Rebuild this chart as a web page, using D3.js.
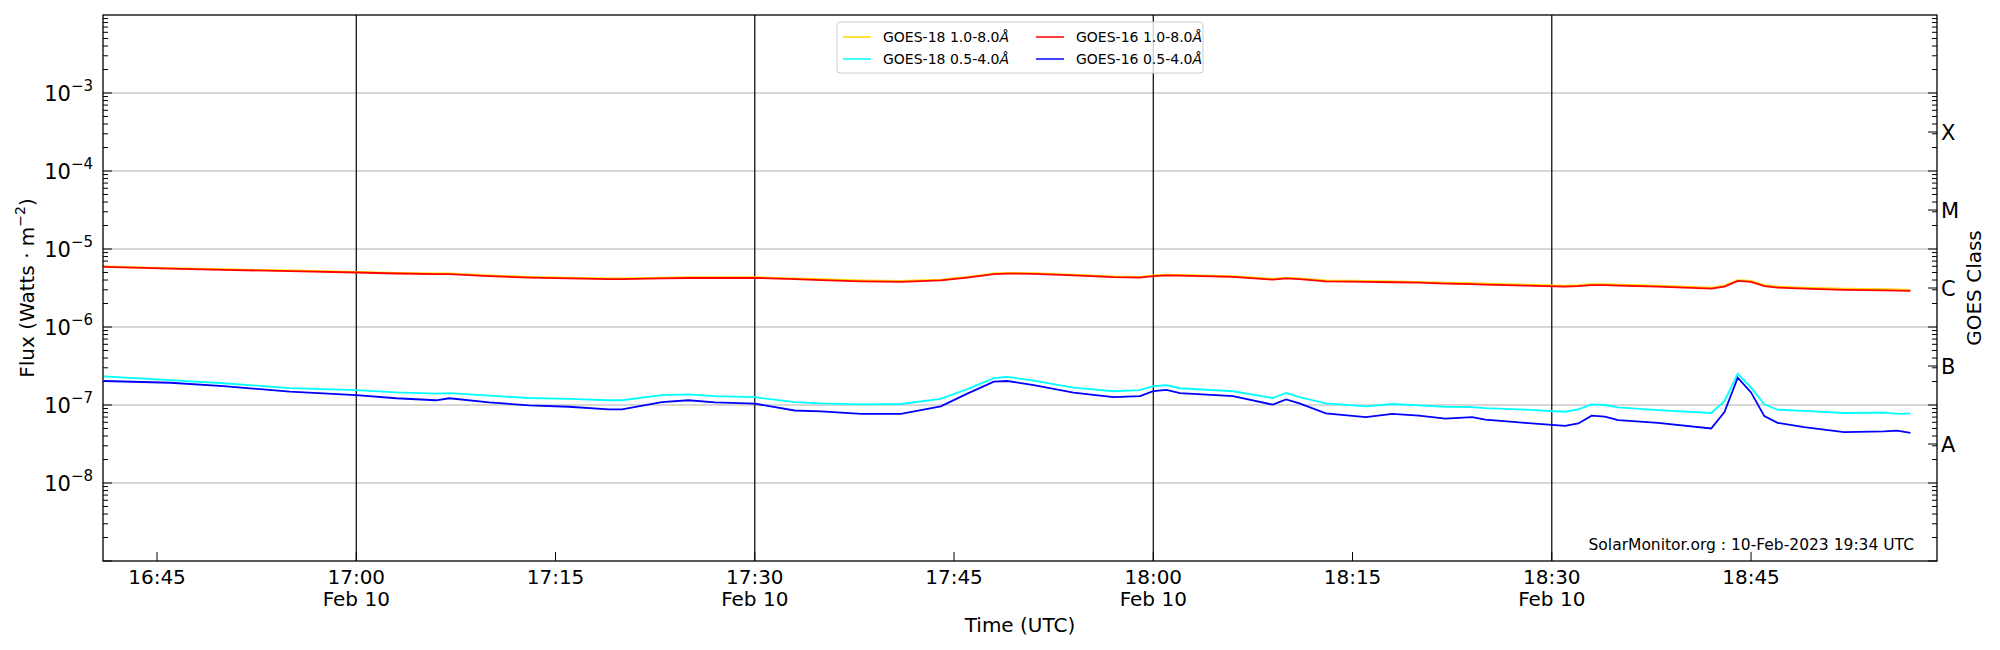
<!DOCTYPE html>
<html><head><meta charset="utf-8">
<script src="https://cdn.jsdelivr.net/npm/d3@7"></script>
<style>body{margin:0;background:#fff}svg{font-family:"DejaVu Sans",sans-serif}</style>
</head><body><svg id="c" width="2000" height="650"></svg>
<script>
const times = ["16:41","16:46","16:50","16:55","17:00","17:03","17:06","17:07","17:10","17:13","17:16","17:19","17:20","17:23","17:25","17:27","17:30","17:33","17:35","17:38","17:41","17:44","17:46","17:48","17:49","17:51","17:54","17:57","17:59","18:00","18:01","18:02","18:06","18:09","18:10","18:11","18:13","18:16","18:18","18:20","18:22","18:24","18:25","18:28","18:31","18:32","18:33","18:34","18:35","18:38","18:42","18:43","18:44","18:45","18:46","18:47","18:49","18:52","18:55","18:56","18:57"];
const g16long = [5.9,5.6,5.4,5.2,5.0,4.85,4.75,4.75,4.5,4.3,4.2,4.1,4.1,4.2,4.25,4.25,4.27,4.1,4.0,3.85,3.8,3.95,4.3,4.75,4.84,4.8,4.6,4.35,4.3,4.5,4.6,4.55,4.4,4.05,4.2,4.1,3.85,3.8,3.75,3.7,3.6,3.55,3.5,3.4,3.3,3.35,3.45,3.45,3.4,3.3,3.1,3.3,3.9,3.8,3.35,3.2,3.1,3.0,2.95,2.93,2.9].map(v=>v*1e-6);
const g18long = [6.0,5.7,5.5,5.3,5.1,4.95,4.85,4.85,4.6,4.4,4.3,4.2,4.2,4.3,4.35,4.35,4.37,4.2,4.1,3.95,3.9,4.05,4.4,4.85,4.94,4.9,4.7,4.45,4.4,4.6,4.7,4.65,4.5,4.15,4.3,4.2,3.95,3.9,3.85,3.8,3.7,3.65,3.6,3.5,3.4,3.45,3.55,3.55,3.5,3.4,3.2,3.4,4.0,3.9,3.45,3.3,3.2,3.1,3.05,3.03,3.0].map(v=>v*1e-6);
const g18short = [2.33,2.08,1.9,1.65,1.55,1.45,1.40,1.42,1.32,1.23,1.2,1.15,1.15,1.34,1.37,1.3,1.26,1.09,1.05,1.02,1.03,1.2,1.6,2.21,2.3,2.05,1.67,1.5,1.55,1.75,1.8,1.64,1.5,1.23,1.43,1.26,1.05,0.96,1.03,0.99,0.95,0.94,0.91,0.87,0.82,0.88,1.02,1.0,0.93,0.86,0.79,1.12,2.52,1.67,1.02,0.87,0.84,0.79,0.8,0.77,0.78].map(v=>v*1e-7);
const g16short = [2.03,1.93,1.75,1.48,1.34,1.22,1.15,1.22,1.08,0.99,0.95,0.88,0.88,1.09,1.15,1.08,1.04,0.85,0.83,0.77,0.77,0.96,1.4,1.99,2.03,1.8,1.44,1.26,1.3,1.51,1.56,1.42,1.3,1.01,1.18,1.05,0.78,0.70,0.77,0.73,0.67,0.70,0.65,0.59,0.54,0.58,0.73,0.71,0.64,0.59,0.50,0.81,2.24,1.45,0.72,0.59,0.52,0.45,0.46,0.47,0.44].map(v=>v*1e-7);
const xTicks = ["16:45","17:00","17:15","17:30","17:45","18:00","18:15","18:30","18:45"];
const classes = ["A","B","C","M","X"];
const classLevels = [1e-8,1e-7,1e-6,1e-5,1e-4];

const svg = d3.select("#c");
const L=103,R=1937,T=15,B=561;
const pt = s => { const [h,m] = s.split(":").map(Number); return new Date(Date.UTC(2023,1,10,h,m)); };
const x = d3.scaleUtc().domain([new Date(Date.UTC(2023,1,10,16,40,56)), new Date(Date.UTC(2023,1,10,18,59,0))]).range([L,R]);
const y = d3.scaleLog().domain([1e-9,1e-2]).range([B,T]);

[1e-8,1e-7,1e-6,1e-5,1e-4,1e-3].forEach(v=>svg.append("line").attr("x1",L).attr("x2",R).attr("y1",y(v)).attr("y2",y(v)).attr("stroke","#b0b0b0").attr("stroke-width",1.2));
["17:00","18:00","17:30","18:30"].forEach(t=>svg.append("line").attr("x1",x(pt(t))).attr("x2",x(pt(t))).attr("y1",T).attr("y2",B).attr("stroke","#000").attr("stroke-width",1.2));

for(let e=-9;e<-2;e++){ for(let k=1;k<10;k++){ const v=k*Math.pow(10,e); const len=k===1?9:5;
  svg.append("line").attr("x1",L).attr("x2",L+len).attr("y1",y(v)).attr("y2",y(v)).attr("stroke","#000");
  svg.append("line").attr("x1",R).attr("x2",R-len).attr("y1",y(v)).attr("y2",y(v)).attr("stroke","#000");
}}
[-8,-7,-6,-5,-4,-3].forEach(e=>{
  const t=svg.append("text").attr("x",L-10).attr("y",y(Math.pow(10,e))+8).attr("text-anchor","end").attr("font-size",21);
  t.append("tspan").text("10");
  t.append("tspan").attr("dy",-10).attr("font-size",15).text("−"+(-e));
});
classes.forEach((c,i)=>{ const v=classLevels[i]*Math.sqrt(10);
  svg.append("line").attr("x1",R).attr("x2",R-9).attr("y1",y(v)).attr("y2",y(v)).attr("stroke","#000");
  svg.append("text").attr("x",R+4).attr("y",y(v)+8).attr("font-size",21).text(c);
});
xTicks.forEach(s=>{ const xx=x(pt(s));
  svg.append("line").attr("x1",xx).attr("x2",xx).attr("y1",B).attr("y2",B-9).attr("stroke","#000");
  svg.append("text").attr("x",xx).attr("y",584).attr("text-anchor","middle").attr("font-size",20).text(s);
  if(s.endsWith(":00")||s.endsWith(":30")) svg.append("text").attr("x",xx).attr("y",606).attr("text-anchor","middle").attr("font-size",20).text("Feb 10");
});

const series=[[g18long,"#ffd700"],[g18short,"#00ffff"],[g16long,"#ff0000"],[g16short,"#0000ff"]];
const line = d3.line().x((d,i)=>x(pt(times[i]))).y(d=>y(d));
series.forEach(([d,c])=>svg.append("path").attr("d",line(d)).attr("fill","none").attr("stroke",c).attr("stroke-width",1.8));

svg.append("rect").attr("x",L).attr("y",T).attr("width",R-L).attr("height",B-T).attr("fill","none").attr("stroke","#000").attr("stroke-width",1.3);

svg.append("text").attr("transform","translate(34,288) rotate(-90)").attr("text-anchor","middle").attr("font-size",20).html('Flux (Watts · m<tspan dy="-9" font-size="14">−2</tspan><tspan dy="9">)</tspan>');
svg.append("text").attr("transform","translate(1981,288) rotate(-90)").attr("text-anchor","middle").attr("font-size",20).text("GOES Class");
svg.append("text").attr("x",(L+R)/2).attr("y",632).attr("text-anchor","middle").attr("font-size",20).text("Time (UTC)");
svg.append("text").attr("x",1914).attr("y",550).attr("text-anchor","end").attr("font-size",15.5).text("SolarMonitor.org : 10-Feb-2023 19:34 UTC");

const lg=svg.append("g");
lg.append("rect").attr("x",837).attr("y",22).attr("width",366).attr("height",51).attr("rx",3).attr("fill","#fff").attr("fill-opacity",0.8).attr("stroke","#ccc");
const items=[["GOES-18 1.0-8.0","#ffd700",0,0],["GOES-18 0.5-4.0","#00ffff",0,1],["GOES-16 1.0-8.0","#ff0000",1,0],["GOES-16 0.5-4.0","#0000ff",1,1]];
items.forEach(([t,c,col,row])=>{ const x0=843+col*193, y0=37+row*22;
  lg.append("line").attr("x1",x0).attr("x2",x0+28).attr("y1",y0).attr("y2",y0).attr("stroke",c).attr("stroke-width",1.5);
  lg.append("text").attr("x",x0+40).attr("y",y0+5).attr("font-size",14).html(t+'<tspan font-style="italic">Å</tspan>');
});
</script></body></html>
